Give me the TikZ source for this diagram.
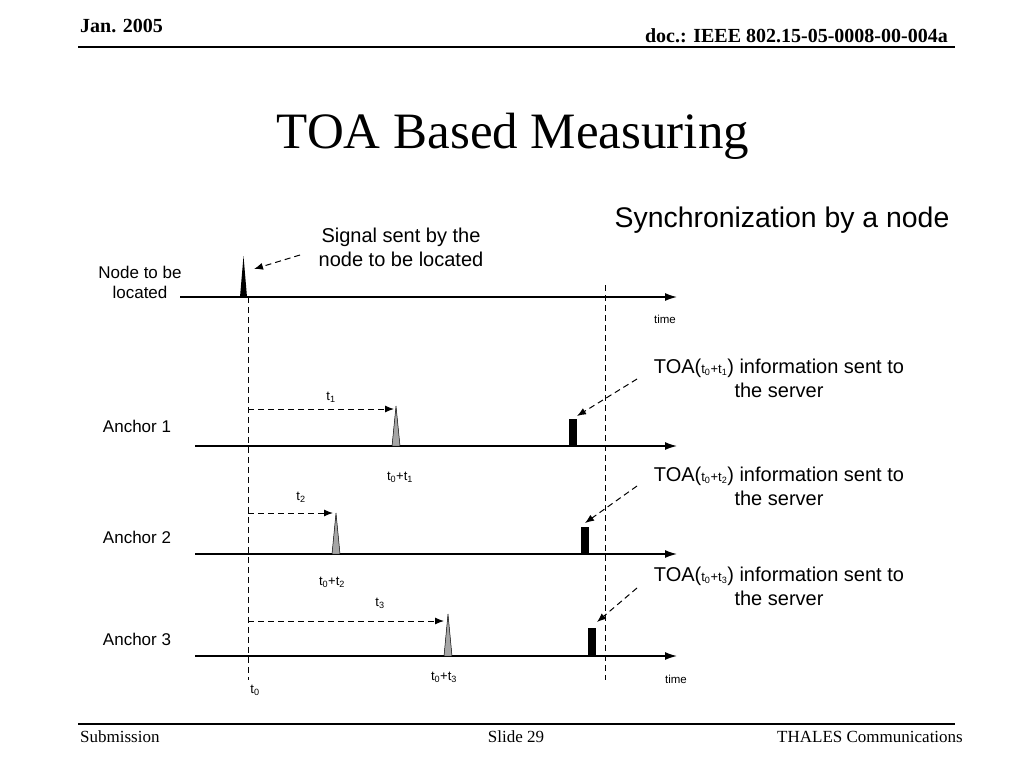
\documentclass[tikz,border=0pt]{standalone}
\usepackage{fontspec}
\setmainfont{Liberation Serif}
\newfontfamily\arialfont{Liberation Sans}
\usetikzlibrary{arrows.meta}
\tikzset{axis/.style={line width=1.4pt,-{Latex[length=12pt,width=8pt]}}, guide/.style={dash pattern=on 6pt off 4pt, line width=1pt},
  hint/.style={dash pattern=on 6pt off 4pt, line width=1pt,-{Latex[length=9pt,width=7pt]}}, pulse/.style={fill=gray!70, draw=black, line width=0.5pt},
  report/.style={fill=black}, rowlbl/.style={font=\arialfont\fontsize{17}{20}\selectfont, align=center, inner sep=0pt},
  note/.style={font=\arialfont\fontsize{20}{24}\selectfont, align=center, inner sep=0pt},
  tlbl/.style={font=\arialfont\fontsize{13}{15}\selectfont, inner sep=0pt}, timelbl/.style={font=\arialfont\fontsize{11.5}{13}\selectfont, inner sep=0pt}}

\begin{document}
\begin{tikzpicture}[x=1pt,y=-1pt]
  \useasboundingbox[fill=white] (0,0) rectangle (1024,768);
  % header and footer
  \node[anchor=base west, inner sep=0pt, font=\bfseries\fontsize{20}{24}\selectfont] (date) at (80,33) {Jan. 2005};
  \node[anchor=base east, inner sep=0pt, font=\bfseries\fontsize{20}{24}\selectfont] (doc) at (948,42) {doc.: IEEE 802.15-05-0008-00-004a};
  \draw[line width=1.5pt] (78,47) -- (955,47);
  \draw[line width=1.5pt] (78,724) -- (955,724);
  \node[anchor=base west, inner sep=0pt, font=\fontsize{17}{20}\selectfont] (sub) at (80,742) {Submission};
  \node[anchor=base, inner sep=0pt, font=\fontsize{17}{20}\selectfont] (slide) at (516,742) {Slide 29};
  \node[anchor=base east, inner sep=0pt, font=\fontsize{17}{20}\selectfont] (org) at (963,742) {THALES Communications};
  \node[anchor=base, inner sep=0pt, font=\fontsize{51}{60}\selectfont] (title) at (513,148) {TOA Based Measuring};
  \node[note, font=\arialfont\fontsize{28.4}{32}\selectfont] (sync) at (782,220) {Synchronization by a node};

  % node to be located
  \coordinate (ns) at (180,297); \coordinate (ne) at (677,297);
  \draw[axis] (ns) -- (ne);
  \fill (240,297) -- (243.5,256) -- (247,297) -- cycle;
  \node[rowlbl] (nl) at (140,282) {Node to be\\located};
  \node[note] (sig) at (401,247) {Signal sent by the\\node to be located};
  \coordinate (sigs) at (300,255); \coordinate (sige) at (254,269);
  \draw[hint] (sigs) -- (sige);
  \node[timelbl] (time1) at (665,319) {time};

  % guides
  \coordinate (g0s) at (248,297); \coordinate (g0e) at (248,680);
  \draw[guide] (g0s) -- (g0e);
  \coordinate (g1s) at (605,285); \coordinate (g1e) at (605,680);
  \draw[guide] (g1s) -- (g1e);
  \node[tlbl] (t0) at (255,690) {t\textsubscript{0}};

  % anchor 1
  \coordinate (a1s) at (195,446); \coordinate (a1e) at (677,446);
  \draw[axis] (a1s) -- (a1e);
  \node[rowlbl] (a1l) at (137,426) {Anchor 1};
  \coordinate (d1s) at (248,409); \coordinate (d1e) at (394,409);
  \draw[hint] (d1s) -- (d1e);
  \node[tlbl] (d1l) at (331,397) {t\textsubscript{1}};
  \filldraw[pulse] (392,446) -- (396,406) -- (400,446) -- cycle;
  \node[tlbl] (p1l) at (400,477) {t\textsubscript{0}+t\textsubscript{1}};
  \fill[report] (569,419) rectangle (577,446);
  \node[note] (r1) at (779,378) {TOA({\fontsize{13}{15}\selectfont t\textsubscript{0}+t\textsubscript{1}}) information sent to\\the server};
  \coordinate (r1s) at (637,379); \coordinate (r1e) at (577,416);
  \draw[hint] (r1s) -- (r1e);

  % anchor 2
  \coordinate (a2s) at (195,554); \coordinate (a2e) at (677,554);
  \draw[axis] (a2s) -- (a2e);
  \node[rowlbl] (a2l) at (137,537) {Anchor 2};
  \coordinate (d2s) at (248,513); \coordinate (d2e) at (333,513);
  \draw[hint] (d2s) -- (d2e);
  \node[tlbl] (d2l) at (301,497) {t\textsubscript{2}};
  \filldraw[pulse] (332,554) -- (336,513) -- (340,554) -- cycle;
  \node[tlbl] (p2l) at (332,582) {t\textsubscript{0}+t\textsubscript{2}};
  \fill[report] (581,527) rectangle (589,554);
  \node[note] (r2) at (779,486) {TOA({\fontsize{13}{15}\selectfont t\textsubscript{0}+t\textsubscript{2}}) information sent to\\the server};
  \coordinate (r2s) at (637,486); \coordinate (r2e) at (585,523);
  \draw[hint] (r2s) -- (r2e);

  % anchor 3
  \coordinate (a3s) at (195,656); \coordinate (a3e) at (677,656);
  \draw[axis] (a3s) -- (a3e);
  \node[rowlbl] (a3l) at (137,639) {Anchor 3};
  \coordinate (d3s) at (248,621); \coordinate (d3e) at (444,621);
  \draw[hint] (d3s) -- (d3e);
  \node[tlbl] (d3l) at (380,603) {t\textsubscript{3}};
  \filldraw[pulse] (444,656) -- (448,614) -- (452,656) -- cycle;
  \node[tlbl] (p3l) at (444,677) {t\textsubscript{0}+t\textsubscript{3}};
  \fill[report] (588,628) rectangle (596,656);
  \node[note] (r3) at (779,586) {TOA({\fontsize{13}{15}\selectfont t\textsubscript{0}+t\textsubscript{3}}) information sent to\\the server};
  \coordinate (r3s) at (637,588); \coordinate (r3e) at (597,622);
  \draw[hint] (r3s) -- (r3e);
  \node[timelbl] (time2) at (676,679) {time};
\end{tikzpicture}
\end{document}
